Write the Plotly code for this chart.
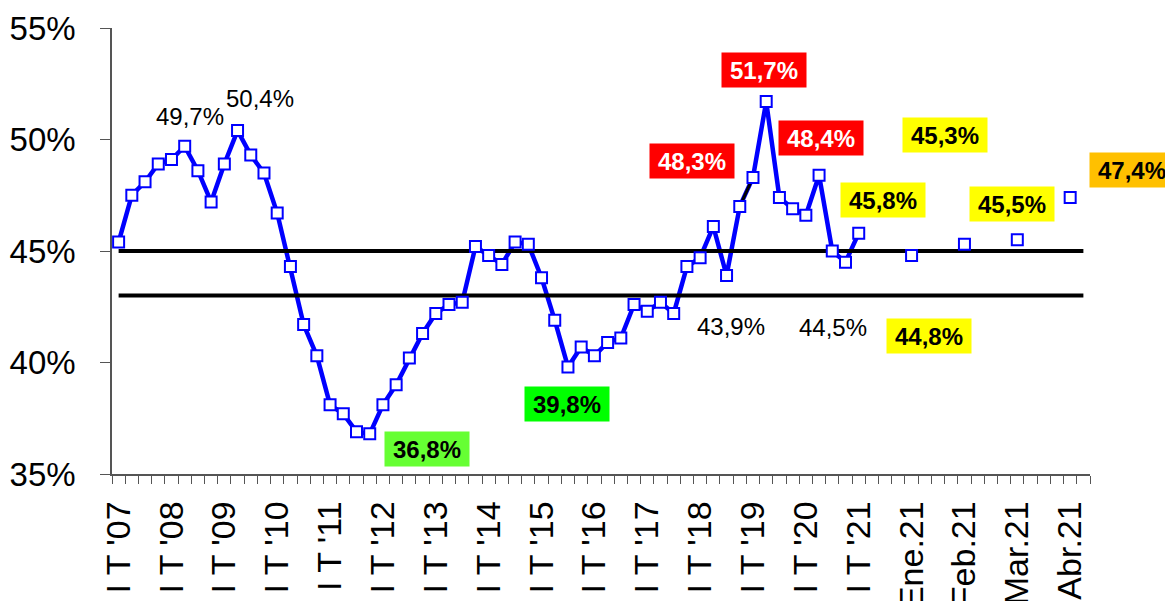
import plotly.graph_objects as go

# ---------------------------------------------------------------------------
# Data
# ---------------------------------------------------------------------------

quarter_values = [
    45.4, 47.5, 48.1, 48.9, 49.1, 49.7, 48.6, 47.2, 48.9, 50.4, 49.3, 48.5,
    46.7, 44.3, 41.7, 40.3, 38.1, 37.7, 36.9, 36.8, 38.1, 39.0, 40.2, 41.3,
    42.2, 42.6, 42.7, 45.2, 44.8, 44.4, 45.4, 45.3, 43.8, 41.9, 39.8, 40.7,
    40.3, 40.9, 41.1, 42.6, 42.3, 42.7, 42.2, 44.3, 44.7, 46.1, 43.9, 47.0,
    48.3, 51.7, 47.4, 46.9, 46.6, 48.4, 45.0, 44.5, 45.8,
]
year_labels = ["I T '07", "I T '08", "I T '09", "I T '10", "I T '11", "I T '12",
               "I T '13", "I T '14", "I T '15", "I T '16", "I T '17", "I T '18",
               "I T '19", "I T '20", "I T '21"]
month_labels = ["Ene.21", "Feb.21", "Mar.21", "Abr.21"]
month_values = [44.8, 45.3, 45.5, 47.4]

upper_band = 45.0
lower_band = 43.0
n_categories = 74

# highlighted labels: (index, style, dx, dy)
quarter_notes = [
    (5, "plain", 5, -30), (9, "plain", 22, -32),
    (19, "lime", 57, 15), (34, "green", -1, 37),
    (46, "plain", 4, 51), (55, "plain", -13, 65),
    (48, "red", -61, -16), (49, "red", -2, -32), (53, "red", 2, -37),
    (56, "yellow", 24, -33),
]
month_notes = [
    (0, "yellow", 17, 81), (1, "yellow", -19, -109),
    (2, "yellow", -5, -36), (3, "orange", 62, -27),
]

# ---------------------------------------------------------------------------
# Positions on the category axis
# ---------------------------------------------------------------------------

qx = list(range(len(quarter_values)))
mx = [qx[-1] + 4 * (i + 1) for i in range(len(month_values))]
label_x = [4 * i for i in range(len(year_labels))] + mx
label_text = year_labels + month_labels

FONT = "Liberation Sans, Arial, sans-serif"
BLUE = "#0000FF"

fig = go.Figure()

fig.add_trace(go.Scatter(
    x=qx, y=quarter_values, mode="lines",
    line={"color": BLUE, "width": 4.5}, hoverinfo="skip",
))
# one segment is drawn black in the original
fig.add_trace(go.Scatter(
    x=qx[47:49], y=quarter_values[47:49], mode="lines",
    line={"color": "black", "width": 3}, hoverinfo="skip",
))
band_x = list(range(n_categories))
for level in (upper_band, lower_band):
    fig.add_trace(go.Scatter(
        x=band_x, y=[level] * n_categories, mode="lines",
        line={"color": "black", "width": 4}, hoverinfo="skip",
    ))
fig.add_trace(go.Scatter(
    x=qx + mx, y=quarter_values + month_values, mode="markers",
    marker={"symbol": "square", "size": 11, "color": "white",
            "line": {"color": BLUE, "width": 2}},
))

styles = {
    "plain": {"bg": None, "fc": "black", "bold": False},
    "lime": {"bg": "#66FF33", "fc": "black", "bold": True},
    "green": {"bg": "#00FF00", "fc": "black", "bold": True},
    "red": {"bg": "#FF0000", "fc": "white", "bold": True},
    "yellow": {"bg": "#FFFF00", "fc": "black", "bold": True},
    "orange": {"bg": "#FFC000", "fc": "black", "bold": True},
}


def add_note(x, y, style, dx, dy):
    s = styles[style]
    txt = f"{y:.1f}%".replace(".", ",")
    if s["bold"]:
        txt = f"<b>{txt}</b>"
    kw = {}
    if s["bg"]:
        kw = {"bgcolor": s["bg"], "width": 80, "height": 30, "borderpad": 2}
    fig.add_annotation(
        x=x, y=y, text=txt, showarrow=False, xshift=dx, yshift=-dy,
        font={"family": FONT, "size": 24, "color": s["fc"]}, **kw,
    )


for i, style, dx, dy in quarter_notes:
    add_note(qx[i], quarter_values[i], style, dx, dy)
for i, style, dx, dy in month_notes:
    add_note(mx[i], month_values[i], style, dx, dy)

fig.update_layout(
    width=1173, height=601,
    margin={"l": 104, "r": 91, "t": 20, "b": 135},
    paper_bgcolor="white", plot_bgcolor="white",
    showlegend=False,
    font={"family": FONT, "color": "black"},
)
fig.update_xaxes(
    range=[-0.5, n_categories - 0.5],
    tickmode="array", tickvals=label_x, ticktext=label_text,
    tickangle=-90, ticks="", ticklabelstandoff=12,
    tickfont={"size": 34, "family": FONT, "color": "black"},
    showline=True, linecolor="#555555", linewidth=1.5,
    showgrid=False, zeroline=False, automargin=False,
    minor={"tickmode": "array", "tickvals": [k - 0.5 for k in range(n_categories + 1)],
           "ticks": "outside", "ticklen": 8, "tickcolor": "#555555", "showgrid": False},
)
fig.update_yaxes(
    range=[35, 55], tickmode="linear", tick0=35, dtick=5, ticksuffix="%",
    ticks="outside", ticklen=10, tickcolor="#555555", ticklabelstandoff=18,
    tickfont={"size": 33, "family": FONT, "color": "black"},
    showline=True, linecolor="#555555", linewidth=1.5,
    showgrid=False, zeroline=False, automargin=False,
)

fig.write_html("out.html")
